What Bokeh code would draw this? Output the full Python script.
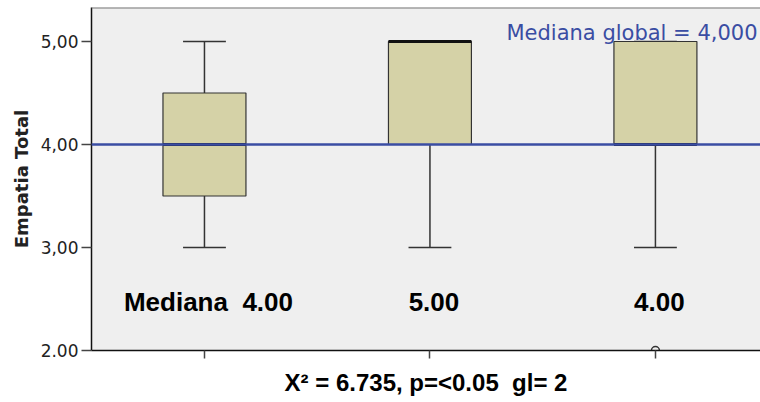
from bokeh.plotting import figure
from bokeh.models import Range1d, Span, Label, FixedTicker, ColumnDataSource
from bokeh.core.properties import value
from bokeh.embed import file_html
from bokeh.resources import INLINE

# ---- data ----
groups = [1, 2, 3]
q1 = [3.5, 4.0, 4.0]
median = [4.0, 5.0, 4.0]
q3 = [4.5, 5.0, 5.0]
lower = [3.0, 3.0, 3.0]
upper = [5.0, 5.0, 5.0]
outlier_x = [3]
outlier_y = [2.0]
median_labels = ["Mediana \u00a04.00", "5.00", "4.00"]
global_median = 4.0
global_label = "Mediana global = 4,000"
stat_label = "X\u00b2 = 6.735, p=<0.05 \u00a0gl= 2"
y_ticks = [2, 3, 4, 5]
y_tick_labels = ["2.00", "3,00", "4,00", "5,00"]
y_title = "Empatia Total"

box_w = 0.368
cap_w = 0.19
x_end = 3.466

p = figure(width=760, height=402, output_backend="svg", toolbar_location=None,
           x_range=Range1d(0.499, x_end), y_range=Range1d(2.0, 5.33),
           min_border_left=91, min_border_right=0, min_border_top=7, min_border_bottom=52)
p.background_fill_color = "#EFEFEF"
p.border_fill_color = "white"
p.outline_line_color = None
p.grid.grid_line_color = None

src = ColumnDataSource(dict(x=groups, q1=q1, med=median, q3=q3, lo=lower, hi=upper,
                            cl=[g - cap_w / 2 for g in groups], cr=[g + cap_w / 2 for g in groups],
                            bl=[g - box_w / 2 for g in groups], br=[g + box_w / 2 for g in groups],
                            lab=median_labels, ly=[2.472] * 3))

# whiskers
p.segment(x0="x", y0="q3", x1="x", y1="hi", source=src, line_color="#333333", line_width=1.5)
p.segment(x0="x", y0="q1", x1="x", y1="lo", source=src, line_color="#333333", line_width=1.5)
p.segment(x0="cl", y0="hi", x1="cr", y1="hi", source=src, line_color="#333333", line_width=1.5)
p.segment(x0="cl", y0="lo", x1="cr", y1="lo", source=src, line_color="#333333", line_width=1.5)
# boxes
p.vbar(x="x", width=box_w, bottom="q1", top="q3", source=src,
       fill_color="#D5D2A7", line_color="#333333", line_width=1.2)
# medians
p.segment(x0="bl", y0="med", x1="br", y1="med", source=src, line_color="#111111", line_width=3)
# outliers
p.scatter(outlier_x, outlier_y, marker="circle", size=8, fill_color="#EFEFEF",
          line_color="#333333", line_width=1.5)

# global median line
p.add_layout(Span(location=global_median, dimension="width", line_color="#3A4DA3", line_width=2.5))
# top border
p.add_layout(Span(location=5.327, dimension="width", line_color="#777777", line_width=1.5))

p.add_layout(Label(x=x_end, y=5.087, x_offset=-3, text=global_label, text_align="right",
                   text_baseline="alphabetic", text_color="#3A4DA3", text_font="DejaVu Sans",
                   text_font_size="21px"))

p.text(x="x", y="ly", text="lab", source=src, x_offset=4, text_align="center",
       text_baseline="middle", text_font=value("Liberation Sans"), text_font_style="bold",
       text_font_size="26px", text_color="black")

# axes
p.yaxis.ticker = FixedTicker(ticks=y_ticks)
p.yaxis.major_label_overrides = {t: l for t, l in zip(y_ticks, y_tick_labels)}
p.yaxis.major_label_text_font = "DejaVu Sans"
p.yaxis.major_label_text_font_size = "17px"
p.yaxis.major_label_text_color = "#222222"
p.yaxis.major_tick_out = 10
p.yaxis.major_tick_in = 0
p.yaxis.minor_tick_line_color = None
p.yaxis.axis_line_color = "#111111"
p.yaxis.axis_line_width = 1.5
p.yaxis.major_tick_line_color = "#444444"
p.yaxis.major_tick_line_width = 1.5
p.yaxis.major_label_standoff = 3
p.yaxis.axis_label = y_title
p.yaxis.axis_label_text_font = "DejaVu Sans"
p.yaxis.axis_label_text_font_style = "bold"
p.yaxis.axis_label_text_font_size = "18px"
p.yaxis.axis_label_text_color = "#222222"
p.yaxis.axis_label_standoff = 6

p.xaxis.ticker = FixedTicker(ticks=groups)
p.xaxis.major_label_overrides = {g: "" for g in groups}
p.xaxis.major_tick_out = 8
p.xaxis.major_tick_in = 0
p.xaxis.minor_tick_line_color = None
p.xaxis.axis_line_color = "#111111"
p.xaxis.axis_line_width = 1.5
p.xaxis.major_tick_line_color = "#444444"
p.xaxis.major_tick_line_width = 1.5
p.xaxis.major_label_standoff = 0
p.xaxis.axis_label = stat_label
p.xaxis.axis_label_text_font = "Liberation Sans"
p.xaxis.axis_label_text_font_style = "bold"
p.xaxis.axis_label_text_font_size = "24px"
p.xaxis.axis_label_text_color = "black"
p.xaxis.axis_label_standoff = 10

open("out.html", "w").write(file_html(p, INLINE))
